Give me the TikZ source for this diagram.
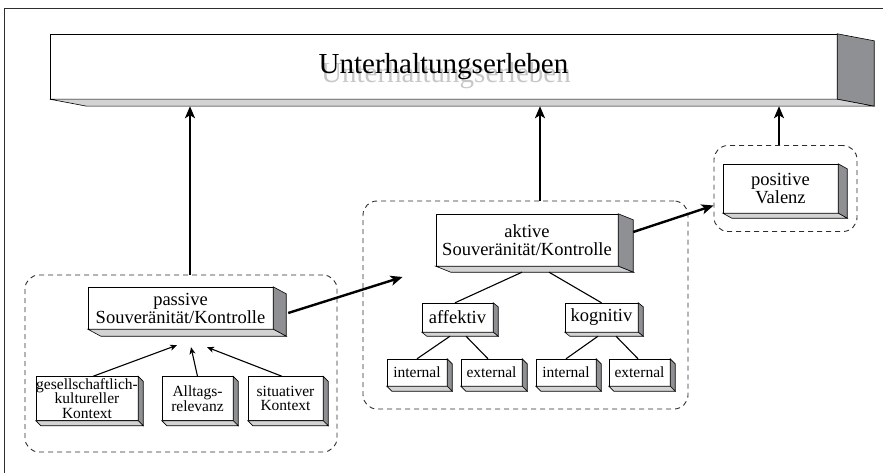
\documentclass[tikz,border=0pt]{standalone}
\usepackage{fontspec}
\setmainfont{Liberation Serif}
\usetikzlibrary{arrows.meta, calc}
\definecolor{sidegray}{RGB}{143,144,147}
\definecolor{bottomgray}{RGB}{211,211,211}
\definecolor{framegray}{RGB}{45,45,45}
\tikzstyle{mainbox} = [rectangle, inner sep=0pt, minimum width=787pt, minimum height=65pt, text centered, draw=black, font=\fontsize{29}{30}\selectfont]
\tikzstyle{ghost} = [inner sep=0pt, text=black!22, font=\fontsize{29}{30}\selectfont]
\tikzstyle{midbox} = [rectangle, inner sep=0pt, align=center, draw=black, fill=white, font=\fontsize{18.5}{18}\selectfont]
\tikzstyle{smallbox} = [rectangle, inner sep=0pt, align=center, draw=black, fill=white, font=\fontsize{15.5}{14.5}\selectfont]
\tikzstyle{group} = [rectangle, inner sep=0pt, rounded corners=14pt, draw=framegray, dash pattern=on 5pt off 4pt, line width=0.9pt]
\tikzstyle{arrow} = [line width=2.4pt,->,>={Stealth[length=12pt,width=10pt,inset=3pt]}]
\tikzstyle{thinarrow} = [line width=1.1pt,->,>={Stealth[length=7pt,width=6pt,inset=2pt]}]
\tikzstyle{branch} = [line width=1.1pt]
% side and bottom face of a box: node, depth x, depth y
\newcommand{\boxfaces}[3]{%
  \filldraw[draw=black, fill=sidegray, line width=0.6pt] (#1.north east) -- ++(#2pt,-#3pt) -- ($(#1.south east)+(#2pt,-#3pt)$) -- (#1.south east) -- cycle;
  \filldraw[draw=black, fill=bottomgray, line width=0.6pt] (#1.south west) -- ++(#2pt,-#3pt) -- ($(#1.south east)+(#2pt,-#3pt)$) -- (#1.south east) -- cycle;
}
\begin{document}
\begin{tikzpicture}[x=1pt, y=1pt, node distance=50pt]
        \useasboundingbox (0,0) rectangle (883,-473);
        \draw [framegray, line width=0.9pt] (4,-473) -- (4,-8) -- (883,-8);

        \node (ghosttext) [ghost] at (446,-76) {Unterhaltungserleben};
        \node (title) [mainbox] at (443.5,-66.5) {Unterhaltungserleben};
        \node (passive) [midbox, minimum width=185pt, minimum height=42pt, below of=title, xshift=-263pt, yshift=-191.5pt] {passive\\Souveränität/Kontrolle};
        \node (alltag) [smallbox, minimum width=71pt, minimum height=44pt, below of=passive, xshift=17pt, yshift=-40.5pt] {Alltags-\\relevanz};
        \node (kultur) [smallbox, minimum width=102pt, minimum height=44pt, left of=alltag, xshift=-60.5pt] {gesellschaftlich-\\kultureller\\Kontext};
        \node (situativ) [smallbox, minimum width=75pt, minimum height=44pt, right of=alltag, xshift=38pt] {situativer\\Kontext};
        \node (aktiv) [midbox, minimum width=182pt, minimum height=52pt, right of=passive, xshift=296.5pt, yshift=68pt] {aktive\\Souveränität/Kontrolle};
        \node (affektiv) [midbox, minimum width=71pt, minimum height=29pt, below of=aktiv, xshift=-69.5pt, yshift=-27.5pt] {affektiv};
        \node (kognitiv) [midbox, minimum width=73pt, minimum height=29pt, right of=affektiv, xshift=94pt] {kognitiv};
        \node (afint) [smallbox, minimum width=60pt, minimum height=27pt, below of=affektiv, xshift=-40.5pt, yshift=-5pt] {internal};
        \node (afext) [smallbox, minimum width=61pt, minimum height=27pt, right of=afint, xshift=24.5pt] {external};
        \node (koint) [smallbox, minimum width=60pt, minimum height=27pt, below of=kognitiv, xshift=-35.5pt, yshift=-5pt] {internal};
        \node (koext) [smallbox, minimum width=61pt, minimum height=27pt, right of=koint, xshift=23.5pt] {external};
        \node (valenz) [midbox, minimum width=115pt, minimum height=49pt, right of=aktiv, xshift=203.5pt, yshift=51.5pt] {positive\\Valenz};

        \boxfaces{title}{37}{7}
        \boxfaces{passive}{13}{7}
        \boxfaces{aktiv}{15}{6}
        \boxfaces{valenz}{9}{5}
        \foreach \n in {affektiv, kognitiv} {\boxfaces{\n}{5}{4}}
        \foreach \n in {kultur, alltag, situativ, afint, afext, koint, koext} {\boxfaces{\n}{5}{5}}

        \node (passivegroup) [group, minimum width=312pt, minimum height=177pt, below of=passive, xshift=0.5pt, yshift=-5.5pt] {};
        \node (aktivgroup) [group, minimum width=325pt, minimum height=208pt, below of=aktiv, xshift=-1.5pt, yshift=-15pt] {};
        \node (valenzgroup) [group, minimum width=143pt, minimum height=86pt, xshift=5pt] at (valenz) {};
        \coordinate (titlebottom) at ([yshift=-7pt]title.south);

        \draw [arrow] ([xshift=9pt]passivegroup.north) -- ([xshift=9pt]passivegroup.north |- titlebottom);
        \draw [arrow] ([xshift=14.5pt]aktivgroup.north) -- ([xshift=14.5pt]aktivgroup.north |- titlebottom);
        \draw [arrow] ([xshift=-6.5pt]valenzgroup.north) -- ([xshift=-6.5pt]valenzgroup.north |- titlebottom);
        \draw [arrow] ([xshift=15pt,yshift=-5pt]passive.east) -- ([xshift=40pt,yshift=28pt]aktivgroup.west);
        \draw [arrow] ([xshift=15pt,yshift=8pt]aktiv.east) -- ([yshift=-17pt]valenzgroup.west);

        \draw [thinarrow] ([xshift=6pt]kultur.north) -- ([xshift=-3.5pt,yshift=-16pt]passive.south);
        \draw [thinarrow] (alltag.north) -- ([xshift=10.5pt,yshift=-18pt]passive.south);
        \draw [thinarrow] ([xshift=-3.5pt]situativ.north) -- ([xshift=26.5pt,yshift=-18pt]passive.south);

        \draw [branch] ([xshift=-5pt,yshift=-6pt]aktiv.south) -- ([xshift=-2.5pt]affektiv.north);
        \draw [branch] ([xshift=22pt,yshift=-6pt]aktiv.south) -- (kognitiv.north);
        \draw [branch] ([xshift=-7.5pt,yshift=-4pt]affektiv.south) -- (afint.north);
        \draw [branch] ([xshift=8.5pt,yshift=-4pt]affektiv.south) -- ([xshift=-3.5pt]afext.north);
        \draw [branch] ([xshift=-3.5pt,yshift=-4pt]kognitiv.south) -- (koint.north);
        \draw [branch] ([xshift=14.5pt,yshift=-4pt]kognitiv.south) -- ([xshift=-1.5pt]koext.north);

      \end{tikzpicture}
\end{document}
